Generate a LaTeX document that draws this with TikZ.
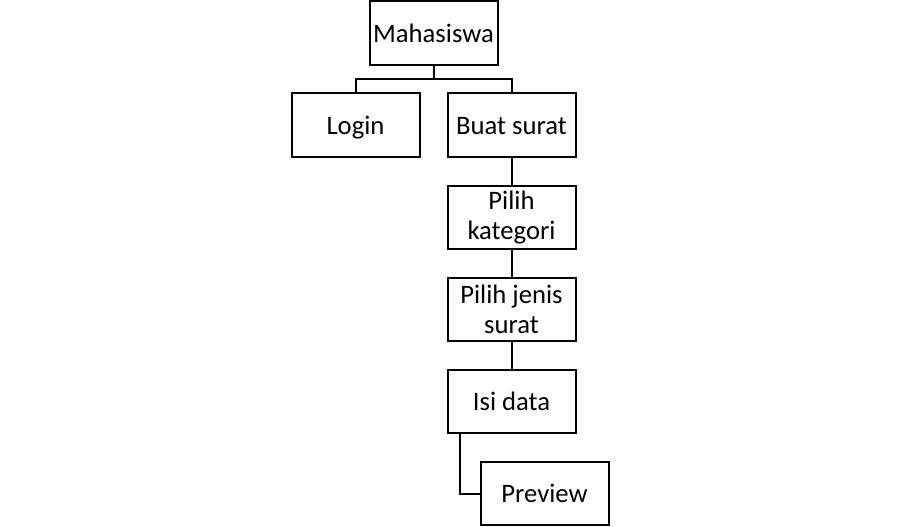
\documentclass[tikz,border=0pt]{standalone}
\usepackage{fontspec}
\setmainfont{Carlito}
\usetikzlibrary{calc}
\begin{document}
\begin{tikzpicture}[x=0.75pt,y=-0.75pt,
  box/.style={draw=black,line width=1.5pt,minimum width=96pt,minimum height=47.5pt,
    inner sep=0pt,align=center,font=\fontsize{20}{23}\selectfont},
  oneline/.style={text height=16pt,text depth=2pt},
  conn/.style={draw=black,line width=1.5pt}]
\useasboundingbox (0,0) rectangle (900,527);
\node[box,oneline] (mah) at (433.5,33) {Mahasiswa};
\node[box,oneline] (login) at (355.5,125) {Login};
\node[box,oneline] (buat) at (511.5,125) {Buat surat};
\node[box] (kat) at (511.5,217.5) {Pilih\\kategori};
\node[box] (jenis) at (511.5,309.5) {Pilih jenis\\surat};
\node[box,oneline] (isi) at (511.5,401.5) {Isi data};
\node[box,oneline] (prev) at (544.5,493.5) {Preview};
\coordinate (j) at (433.5,79);
\coordinate (e) at ($(isi.south west)+(13,0)$);
\draw[conn] (mah.south) -- (j) -| (login.north);
\draw[conn] (j) -| (buat.north);
\draw[conn] (buat.south) -- (kat.north);
\draw[conn] (kat.south) -- (jenis.north);
\draw[conn] (jenis.south) -- (isi.north);
\draw[conn] (e) |- (prev.west);
\end{tikzpicture}
\end{document}
